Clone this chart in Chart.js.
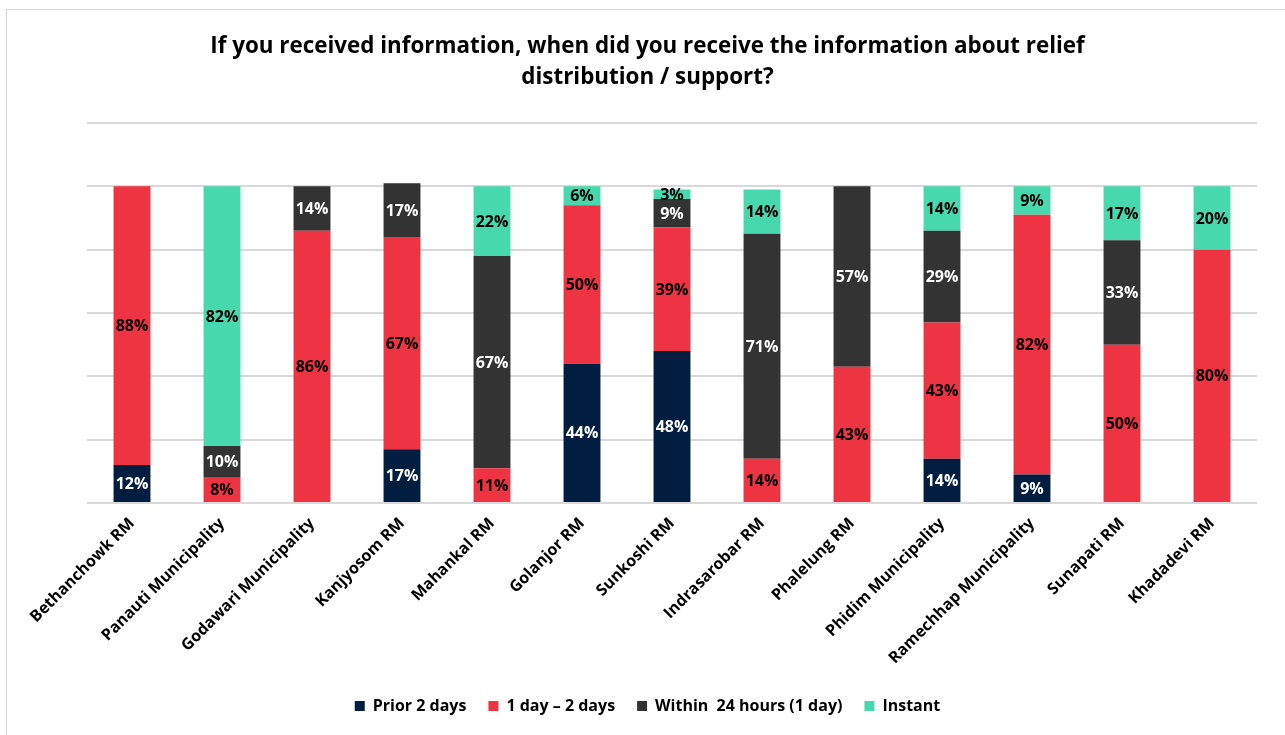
<!DOCTYPE html>
<html>
<head>
<meta charset="utf-8">
<script src="https://cdn.jsdelivr.net/npm/chart.js@4"></script>
<style>
  html, body { margin: 0; padding: 0; background: #fff; overflow: hidden; }
  #frame {
    position: absolute; left: 6px; top: 9px; width: 1400px; height: 900px;
    border: 1.5px solid #d9d9d9; z-index: 0;
  }
  #wrap { position: absolute; left: 0; top: 0; width: 1285px; height: 735px; z-index: 1; }
</style>
</head>
<body>
<div id="frame"></div>
<div id="wrap"><canvas id="reliefChart" width="1285" height="735"></canvas></div>
<script>
// Municipalities / rural municipalities surveyed
const places = [
  "Bethanchowk RM", "Panauti Municipality", "Godawari Municipality", "Kanjyosom RM",
  "Mahankal RM", "Golanjor RM", "Sunkoshi RM", "Indrasarobar RM", "Phalelung RM",
  "Phidim Municipality", "Ramechhap Municipality", "Sunapati RM", "Khadadevi RM"
];

// Share of respondents (%) by timing of the information
const prior2Days = [12, 0, 0, 17, 0, 44, 48, 0, 0, 14, 9, 0, 0];
const oneToTwoDays = [88, 8, 86, 67, 11, 50, 39, 14, 43, 43, 82, 50, 80];
const within24h = [0, 10, 14, 17, 67, 0, 9, 71, 57, 29, 0, 33, 0];
const instant = [0, 82, 0, 0, 22, 6, 3, 14, 0, 14, 9, 17, 20];

const seriesNames = ["Prior 2 days", "1 day \u2013 2 days", "Within  24 hours (1 day)", "Instant"];
const seriesColors = ["#011E41", "#EE3342", "#333333", "#48D8AD"];
const labelColors = ["#ffffff", "#000000", "#ffffff", "#000000"];

const FONT = "'Open Sans', 'Noto Sans', sans-serif";

// Writes the percentage in the middle of every non-empty segment
const segmentLabels = {
  id: "segmentLabels",
  afterDatasetsDraw(chart) {
    const ctx = chart.ctx;
    ctx.save();
    ctx.font = "bold 16px " + FONT;
    ctx.textAlign = "center";
    ctx.textBaseline = "middle";
    chart.data.datasets.forEach((ds, i) => {
      const meta = chart.getDatasetMeta(i);
      meta.data.forEach((bar, j) => {
        const v = ds.data[j];
        if (!v) return;
        ctx.fillStyle = labelColors[i];
        ctx.fillText(v + "%", bar.x, (bar.y + bar.base) / 2 + 1);
      });
    });
    ctx.restore();
  }
};

const datasets = [prior2Days, oneToTwoDays, within24h, instant].map((vals, i) => ({
  label: seriesNames[i],
  data: vals,
  backgroundColor: seriesColors[i],
  borderWidth: 0,
  categoryPercentage: 1,
  barPercentage: 0.41
}));

const ctx = document.getElementById("reliefChart").getContext("2d");
new Chart(ctx, {
  type: "bar",
  data: { labels: places, datasets: datasets },
  options: {
    responsive: false,
    animation: false,
    layout: { padding: { left: 38, right: 28, top: 0, bottom: 11 } },
    plugins: {
      tooltip: { enabled: false },
      title: {
        display: true,
        text: [
          "If you received information, when did you receive the information about relief",
          "distribution / support?"
        ],
        color: "#000",
        font: { family: FONT, size: 22.4, weight: "bold", lineHeight: 1.38 },
        padding: { top: 31, bottom: 30.2 }
      },
      legend: {
        position: "bottom",
        labels: {
          color: "#000",
          font: { family: FONT, size: 16, weight: "bold" },
          boxWidth: 10,
          boxHeight: 10,
          padding: 22
        }
      }
    },
    scales: {
      x: {
        stacked: true,
        grid: { display: false, drawTicks: false },
        border: { display: false },
        ticks: {
          color: "#000",
          font: { family: FONT, size: 16, weight: "bold" },
          maxRotation: 45,
          minRotation: 45,
          padding: 11,
          autoSkip: false
        },
        afterFit(scale) {
          // fixed axis band; long labels may run past it without being cut
          scale.height = 173;
          scale._computeLabelArea = () => undefined;
        }
      },
      y: {
        stacked: true,
        min: 0,
        max: 120,
        ticks: { display: false, stepSize: 20 },
        grid: { color: "#d9d9d9", lineWidth: 2, drawTicks: false },
        border: { display: false },
        afterFit(scale) { scale.width = 49; }
      }
    }
  },
  plugins: [segmentLabels]
});
</script>
</body>
</html>
